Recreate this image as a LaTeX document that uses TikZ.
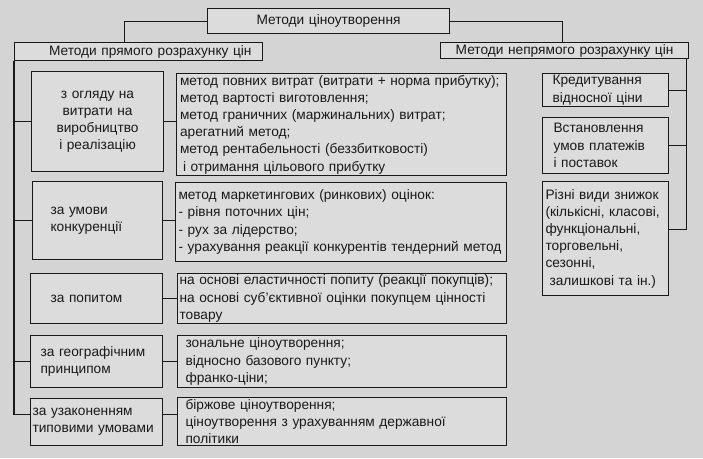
\documentclass[tikz,border=0pt]{standalone}
\usepackage{fontspec}
\setmainfont{Liberation Sans}
\usepackage{xcolor}
\usepackage{tikz}
\usetikzlibrary{arrows.meta}

\definecolor{scanbg}{RGB}{212,212,212}
\definecolor{boxfill}{RGB}{220,220,220}
\definecolor{ink}{RGB}{25,25,25}

\begin{document}
\begin{tikzpicture}[x=1pt,y=-1pt,line width=1.1pt,
    box/.style={draw=ink,fill=boxfill,text=ink,anchor=north west,inner ysep=0pt,
      font=\fontsize{13.7}{17.2}\selectfont},
    link/.style={draw=ink,line width=1.1pt}]
  % Page
  \fill[scanbg] (0,0) rectangle (703,458);
  \useasboundingbox (0,0) rectangle (703,458);
  % Header boxes
  \node[box,text width=234pt,inner xsep=4pt,minimum height=25pt,align=center] (top) at (207,8) {Методи ціноутворення};
  \node[box,text width=226pt,inner xsep=11pt,minimum height=18pt,align=right] (lefthead) at (14,42) {Методи прямого розрахунку цін};
  \node[box,text width=242pt,inner xsep=3pt,minimum height=16pt,align=center] (righthead) at (440,42) {Методи непрямого розрахунку цін};
  \draw[link] (top.west) -| ([xshift=-14pt]lefthead.north);
  \draw[link] (top.east) -| ([xshift=-2pt]righthead.north);
  % Direct methods: groups (left column)
  \node[box,text width=120pt,inner xsep=6pt,minimum height=100pt,align=center] (cat1) at (31,71)
    {з огляду на\\витрати на\\виробництво\\і реалізацію};
  \node[box,text width=94pt,inner xsep=18pt,minimum height=78pt,align=left] (cat2) at (32,181)
    {за умови\\конкуренції};
  \node[box,text width=92pt,inner xsep=20pt,minimum height=50pt,align=left] (cat3) at (30,273)
    {за попитом};
  \node[box,text width=112pt,inner xsep=10pt,minimum height=52pt,align=left] (cat4) at (30,335)
    {за географічним\\принципом};
  \node[box,text width=128pt,inner xsep=2pt,minimum height=47pt,align=left] (cat5) at (30,398)
    {за узаконенням\\типовими умовами};
  % Direct methods: contents (middle column)
  \node[box,text width=323pt,inner xsep=3.5pt,minimum height=102pt,align=left] (desc1) at (176,73)
    {метод повних витрат (витрати + норма прибутку);\\метод вартості виготовлення;\\метод граничних (маржинальних) витрат;\\арегатний метод;\\метод рентабельності (беззбитковості)\\\hspace{3pt}і отримання цільового прибутку};
  \node[box,text width=325pt,inner xsep=3pt,minimum height=79pt,align=left] (desc2) at (175,182)
    {метод маркетингових (ринкових) оцінок:\\- рівня поточних цін;\\- рух за лідерство;\\- урахування реакції конкурентів тендерний метод};
  \node[box,text width=325pt,inner xsep=2pt,minimum height=50pt,align=left] (desc3) at (177,273)
    {на основі еластичності попиту (реакції покупців);\\на основі суб'єктивної оцінки покупцем цінності\\товару};
  \node[box,text width=313pt,inner xsep=8pt,minimum height=52pt,align=left] (desc4) at (177,335)
    {зональне ціноутворення;\\відносно базового пункту;\\франко-ціни;};
  \node[box,text width=313pt,inner xsep=8pt,minimum height=48pt,align=left] (desc5) at (177,397)
    {біржове ціноутворення;\\ціноутворення з урахуванням державної\\політики};
  % Indirect methods (right column)
  \node[box,text width=106pt,inner xsep=10pt,minimum height=33pt,align=left] (rb1) at (542,73)
    {Кредитування\\відносної ціни};
  \node[box,text width=104pt,inner xsep=11pt,minimum height=56pt,align=left] (rb2) at (542,117)
    {Встановлення\\умов платежів\\і поставок};
  \node[box,text width=120pt,inner xsep=3pt,minimum height=114pt,align=left] (rb3) at (542,181)
    {Різні види знижок\\(кількісні, класові,\\функціональні,\\торговельні,\\сезонні,\\\hspace{4pt}залишкові та ін.)};
  % Buses
  \coordinate (lbus) at (lefthead.south west);
  \coordinate (rbus) at ([xshift=-3pt]righthead.south east);
  \draw[link] (lbus) |- ([yshift=8pt]cat5.west);
  \foreach \i in {1,2,4} {\draw[link] (cat\i.west) -- (cat\i.west -| lbus);}
  \foreach \i in {1,...,4} {\draw[link] (cat\i.east) -- (cat\i.east -| desc\i.west);}
  \draw[link] ([yshift=8pt]cat5.east) -- ([yshift=8pt]cat5.east -| desc5.west);
  \draw[link] (rbus) |- ([yshift=9pt]rb3.east);
  \foreach \i in {1,2} {\draw[link] (rb\i.east) -- (rb\i.east -| rbus);}
\end{tikzpicture}
\end{document}
